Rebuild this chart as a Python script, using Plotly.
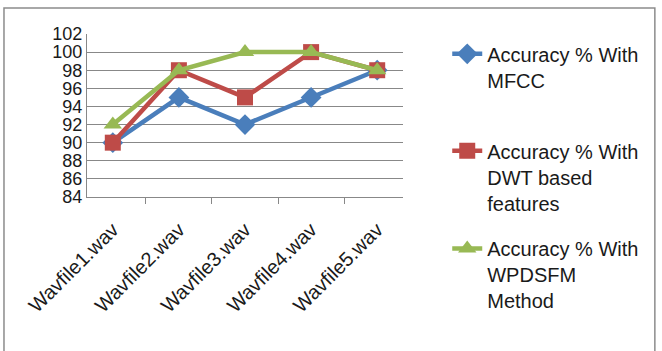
import plotly.graph_objects as go

categories = ["Wavfile1.wav", "Wavfile2.wav", "Wavfile3.wav", "Wavfile4.wav", "Wavfile5.wav"]
mfcc = [90, 95, 92, 95, 98]
dwt = [90, 98, 95, 100, 98]
wpdsfm = [92, 98, 100, 100, 98]
names = ["Accuracy % With<br>MFCC", "Accuracy % With<br>DWT based<br>features", "Accuracy % With<br>WPDSFM<br>Method"]
colors = ["#4A7EBB", "#BE4B48", "#98B954"]
symbols = ["diamond", "square", "triangle-up"]
y_ticks = list(range(84, 103, 2))

FONT = "Liberation Sans"
legend_ids = ["legend", "legend2", "legend3"]
legend_tops = [0.998, 0.403, -0.197]

fig = go.Figure()
for i, (vals, nm) in enumerate(zip([mfcc, dwt, wpdsfm], names)):
    fig.add_trace(go.Scatter(
        x=categories, y=vals, name=nm, mode="lines+markers",
        line=dict(color=colors[i], width=4.5),
        marker=dict(symbol=symbols[i], size=16, color=colors[i]),
        legend=legend_ids[i],
    ))

legend_common = dict(x=1.14, xanchor="left", yanchor="top",
                     font=dict(family=FONT, size=20, color="#1a1a1a"),
                     valign="top", itemwidth=30, bgcolor="rgba(0,0,0,0)")
fig.update_layout(
    width=662, height=351,
    margin=dict(l=87, r=259, t=34, b=154),
    paper_bgcolor="white", plot_bgcolor="white",
    font=dict(family=FONT, color="#1a1a1a"),
    showlegend=True,
    legend=dict(y=legend_tops[0], **legend_common),
    legend2=dict(y=legend_tops[1], **legend_common),
    legend3=dict(y=legend_tops[2], **legend_common),
    xaxis=dict(type="category", tickangle=-45, showgrid=False,
               showline=True, linecolor="#888888", linewidth=1,
               ticks="outside", tickson="boundaries", ticklen=6, tickcolor="#888888",
               ticklabelstandoff=12,
               tickfont=dict(family=FONT, size=20, color="#1a1a1a")),
    yaxis=dict(range=[84, 102], tickvals=y_ticks, showgrid=True, gridcolor="#888888",
               gridwidth=1, showline=True, linecolor="#888888", linewidth=1,
               ticks="", zeroline=False,
               tickfont=dict(family=FONT, size=18, color="#1a1a1a")),
    shapes=[dict(type="rect", xref="paper", yref="paper",
                 x0=-0.2627, x1=1.797, y0=-1.05, y1=1.1595,
                 line=dict(color="#8c8c8c", width=1.5), fillcolor="rgba(0,0,0,0)",
                 layer="below")],
)
fig.write_html("out.html")
